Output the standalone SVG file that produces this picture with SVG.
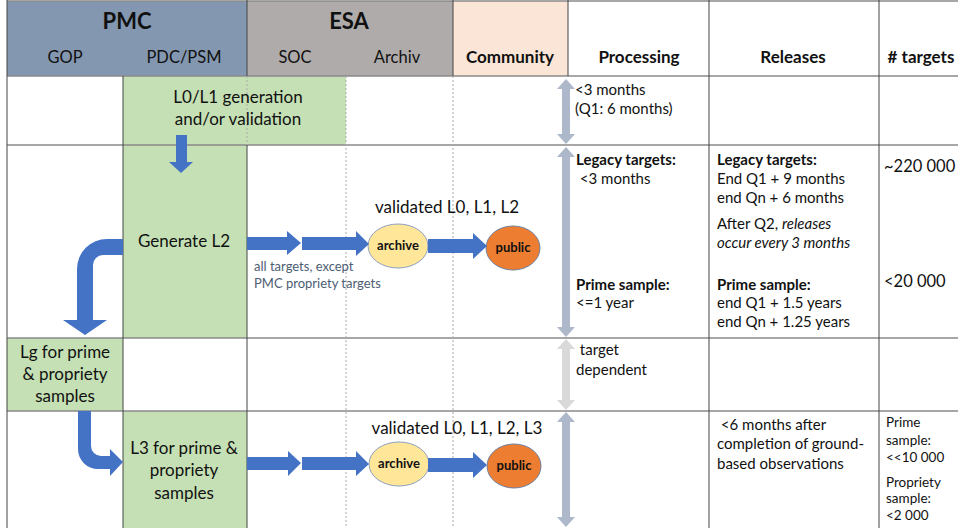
<svg xmlns="http://www.w3.org/2000/svg" width="958" height="528" viewBox="0 0 958 528">
<style>
text{font-family:Lato,"Liberation Sans",sans-serif;fill:#111}
.h{font-size:22px;font-weight:bold;text-anchor:middle}
.sh{font-size:16.5px;text-anchor:middle}
.shb{font-size:17px;font-weight:bold;text-anchor:middle}
.m{font-size:17px;text-anchor:middle}
.s{font-size:15px}
.b{font-weight:bold}
.i{font-style:italic}
.note{font-size:13px;fill:#4d5d73}
.el{font-size:13px;font-weight:bold;text-anchor:middle}
.t{font-size:13.5px}
.hl{stroke:#8a8a8a;stroke-width:1.5;fill:none}
.vl{stroke:#444;stroke-width:1;fill:none}
.dl{stroke:#aaa;stroke-width:1;stroke-dasharray:2 2;fill:none}
.green{fill:#c5e0b4}
.blue{fill:#4472c4}
.dbl{fill:#adb9ca}
.dbl2{fill:#d9d9d9}
</style>
<rect width="958" height="528" fill="#fff"/>
<g id="header">
<rect x="7" y="1" width="240" height="75" fill="#8497b0"/>
<rect x="247" y="1" width="206" height="75" fill="#afabab"/>
<rect x="453" y="1" width="115" height="75" fill="#fbe5d6"/>
<text class="h" x="127" y="29">PMC</text>
<text class="h" x="349" y="29">ESA</text>
<text class="sh" x="65" y="63">GOP</text>
<text class="sh" x="184" y="63">PDC/PSM</text>
<text class="sh" x="295" y="63">SOC</text>
<text class="sh" x="397" y="63">Archiv</text>
<text class="shb" x="510" y="63">Community</text>
<text class="shb" x="639" y="63">Processing</text>
<text class="shb" x="793" y="63">Releases</text>
<text class="shb" x="921" y="63"># targets</text>
</g>
<g id="boxes">
<rect class="green" x="123" y="76" width="223" height="69"/>
<rect class="green" x="123" y="145" width="124" height="193"/>
<rect class="green" x="7" y="338" width="116" height="73"/>
<rect class="green" x="123" y="411" width="124" height="117"/>
</g>
<g id="grid">
<line class="hl" x1="7" y1="1" x2="958" y2="1"/>
<line class="hl" x1="7" y1="76" x2="958" y2="76"/>
<line class="hl" x1="7" y1="145" x2="958" y2="145"/>
<line class="hl" x1="7" y1="338" x2="958" y2="338"/>
<line class="hl" x1="7" y1="411" x2="958" y2="411"/>
<line class="vl" x1="7" y1="0" x2="7" y2="528"/>
<line class="vl" x1="123" y1="76" x2="123" y2="528"/>
<line class="vl" x1="247" y1="0" x2="247" y2="76"/>
<line class="dl" x1="247" y1="76" x2="247" y2="145"/>
<line class="vl" x1="247" y1="145" x2="247" y2="528"/>
<line class="dl" x1="346" y1="76" x2="346" y2="528"/>
<line class="vl" x1="453" y1="0" x2="453" y2="76"/>
<line class="dl" x1="453" y1="76" x2="453" y2="528"/>
<line class="vl" x1="568" y1="0" x2="568" y2="76"/>
<line class="vl" x1="709" y1="0" x2="709" y2="528"/>
<line class="vl" x1="879" y1="0" x2="879" y2="528"/>
</g>
<g id="n-l0l1">
<text class="m" x="238" y="103">L0/L1 generation</text>
<text class="m" x="238" y="125">and/or validation</text>
</g>
<g id="n-genl2"><text class="m" x="184" y="247">Generate L2</text></g>
<g id="n-lg">
<text class="m" x="65" y="358">Lg for prime</text>
<text class="m" x="65" y="380">&amp; propriety</text>
<text class="m" x="65" y="402">samples</text>
</g>
<g id="n-l3">
<text class="m" x="184" y="454">L3 for prime &amp;</text>
<text class="m" x="184" y="476">propriety</text>
<text class="m" x="184" y="499">samples</text>
</g>
<g id="n-archive1">
<ellipse cx="398" cy="246" rx="30" ry="22" fill="#ffe699" stroke="#8e9fc0" stroke-width="1"/>
<text class="el" x="398" y="250">archive</text>
</g>
<g id="n-public1">
<ellipse cx="513" cy="248" rx="27" ry="22" fill="#ed7d31" stroke="#6f7fa0" stroke-width="1"/>
<text class="el" x="513" y="252">public</text>
</g>
<g id="n-archive2">
<ellipse cx="399" cy="464" rx="30" ry="22" fill="#ffe699" stroke="#8e9fc0" stroke-width="1"/>
<text class="el" x="399" y="468">archive</text>
</g>
<g id="n-public2">
<ellipse cx="514" cy="466" rx="27" ry="22" fill="#ed7d31" stroke="#6f7fa0" stroke-width="1"/>
<text class="el" x="514" y="470">public</text>
</g>
<g id="labels">
<text class="m" x="447" y="213">validated L0, L1, L2</text>
<text class="m" x="457" y="434">validated L0, L1, L2, L3</text>
<text class="note" x="254" y="271">all targets, except</text>
<text class="note" x="254" y="288">PMC propriety targets</text>
<text class="s" x="575" y="95">&lt;3 months</text>
<text class="s" x="575" y="114">(Q1: 6 months)</text>
<text class="s b" x="576" y="165">Legacy targets:</text>
<text class="s" x="576" y="184" xml:space="preserve"> &lt;3 months</text>
<text class="s b" x="576" y="290">Prime sample:</text>
<text class="s" x="576" y="308">&lt;=1 year</text>
<text class="s" x="576" y="355" xml:space="preserve"> target</text>
<text class="s" x="576" y="375">dependent</text>
<text class="s b" x="717" y="165">Legacy targets:</text>
<text class="s" x="717" y="184">End Q1 + 9 months</text>
<text class="s" x="717" y="203">end Qn + 6 months</text>
<text class="s" x="717" y="229">After Q2, <tspan class="i">releases</tspan></text>
<text class="s i" x="717" y="248">occur every 3 months</text>
<text class="s b" x="717" y="290">Prime sample:</text>
<text class="s" x="717" y="308">end Q1 + 1.5 years</text>
<text class="s" x="717" y="327">end Qn + 1.25 years</text>
<text class="s" x="717" y="430" xml:space="preserve"> &lt;6 months after</text>
<text class="s" x="717" y="449">completion of ground-</text>
<text class="s" x="717" y="469">based observations</text>
<text x="884" y="172" style="font-size:16.5px">~220 000</text>
<text x="884" y="287" style="font-size:16.5px">&lt;20 000</text>
<text class="t" x="886" y="427">Prime</text>
<text class="t" x="886" y="445">sample:</text>
<text class="t" x="886" y="462">&lt;&lt;10 000</text>
<text class="t" x="886" y="487">Propriety</text>
<text class="t" x="886" y="503">sample:</text>
<text class="t" x="886" y="520">&lt;2 000</text>
</g>
<g id="connectors">
<polygon class="blue" points="176,135 187,135 187,162 193,162 181,173 169,162 176,162"/>
<path class="blue" d="M123,239 L107,239 A30,30 0 0 0 77,269 L77,320 L63,320 L85,335 L107,320 L93,320 L93,265 A10,10 0 0 1 103,255 L123,255 Z"/>
<path class="blue" d="M78,411 L78,449 A20,20 0 0 0 98,469 L110,469 L110,476 L123,462 L110,449 L110,456 L101,456 A10,10 0 0 1 91,446 L91,411 Z"/>
<polygon class="blue" points="247,237 287,237 287,231 301,243 287,255 287,250 247,250"/>
<polygon class="blue" points="302,237 356,237 356,231 369,244 356,256 356,250 302,250"/>
<polygon class="blue" points="428,239 473,239 473,233 487,246 473,259 473,253 428,253"/>
<polygon class="blue" points="247,457 288,457 288,451 301,463 288,476 288,470 247,470"/>
<polygon class="blue" points="302,457 356,457 356,451 369,464 356,476 356,470 302,470"/>
<polygon class="blue" points="428,458 473,458 473,452 487,465 473,478 473,472 428,472"/>
<polygon class="dbl" points="566,79 575,89 570,89 570,134 575,134 566,144 557,134 562,134 562,89 557,89"/>
<polygon class="dbl" points="566,147 575,157 570,157 570,327 575,327 566,337 557,327 562,327 562,157 557,157"/>
<polygon class="dbl2" points="566,339 575,349 570,349 570,400 575,400 566,410 557,400 562,400 562,349 557,349"/>
<polygon class="dbl" points="566,412 575,422 570,422 570,517 575,517 566,527 557,517 562,517 562,422 557,422"/>
</g>
</svg>
